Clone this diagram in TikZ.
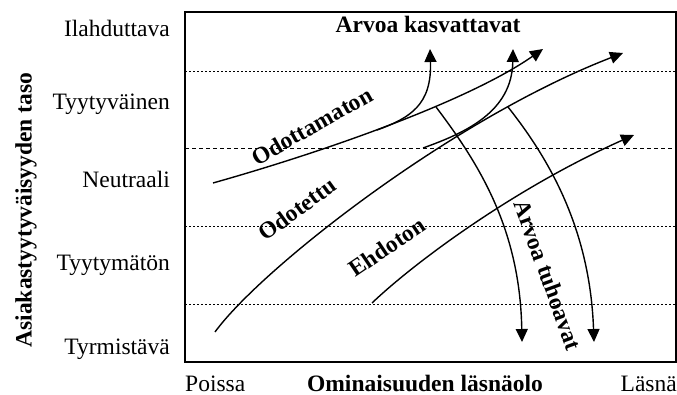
\documentclass[tikz,border=0pt]{standalone}
\usepackage{fontspec}
\setmainfont{Liberation Serif}
\usetikzlibrary{arrows.meta}

\begin{document}
\begin{tikzpicture}[x=1pt, y=-1pt,
    every node/.style={font=\fontsize{23.5}{28}\selectfont, inner sep=0pt},
    levellbl/.style={anchor=base east},
    curvelbl/.style={font=\fontsize{23.5}{28}\selectfont\bfseries},
    curve/.style={line width=1.4pt, -{Triangle[length=13pt,width=12pt]}},
    gridline/.style={line width=0.8pt, dash pattern=on 2pt off 2pt}]
  \useasboundingbox (0,0) rectangle (677,395);
  \draw[line width=1.5pt] (185,12) rectangle (676,362);
  \draw[gridline] (185,71) -- (676,71);
  \draw[gridline, dash pattern=on 4pt off 3pt] (185,148) -- (676,148);
  \draw[gridline] (185,226) -- (676,226);
  \draw[gridline] (185,304) -- (676,304);
  \node[levellbl] (ilah) at (170,37) {Ilahduttava};
  \node[levellbl] (tyyt) at (170,110) {Tyytyväinen};
  \node[levellbl] (neut) at (170,188) {Neutraali};
  \node[levellbl] (tymat) at (170,270) {Tyytymätön};
  \node[levellbl] (tyrm) at (170,354) {Tyrmistävä};
  \node[rotate=90, font=\fontsize{23.5}{28}\selectfont\bfseries] (ylbl) at (26,210) {Asiakastyytyväisyyden taso};
  \node[anchor=base west] (poissa) at (185,391) {Poissa};
  \node[anchor=base, font=\fontsize{23.5}{28}\selectfont\bfseries] (xlbl) at (425,391) {Ominaisuuden läsnäolo};
  \node[anchor=base east] (lasna) at (677,391) {Läsnä};
  \node[anchor=base, font=\fontsize{23.5}{28}\selectfont\bfseries] (kasv) at (428,33) {Arvoa kasvattavat};
  \coordinate (odo0) at (213,183);
  \coordinate (odo1) at (543,49);
  \coordinate (odob0) at (377,130);
  \coordinate (odob1) at (430,49);
  \coordinate (ode0) at (215,332);
  \coordinate (ode1) at (623,53);
  \coordinate (odeb0) at (423,148);
  \coordinate (odeb1) at (513,49);
  \coordinate (ehd0) at (372,303);
  \coordinate (ehd1) at (634,135);
  \coordinate (tuh0) at (436,107);
  \coordinate (tuh1) at (522,342);
  \coordinate (tuhb0) at (508,107);
  \coordinate (tuhb1) at (594,342);
  \draw[curve] (odo0) .. controls (330,150) and (470,100) .. (odo1);
  \draw[curve] (odob0) .. controls (410,118) and (432,105) .. (odob1);
  \draw[curve] (ode0) .. controls (260,270) and (450,120) .. (ode1);
  \draw[curve] (odeb0) .. controls (465,133) and (512,112) .. (odeb1);
  \draw[curve] (ehd0) .. controls (415,262) and (515,188) .. (ehd1);
  \draw[curve] (tuh0) .. controls (480,165) and (520,230) .. (tuh1);
  \draw[curve] (tuhb0) .. controls (550,160) and (590,230) .. (tuhb1);
  \node[curvelbl, rotate=29.5] (lblodo) at (312,126) {Odottamaton};
  \node[curvelbl, rotate=36] (lblode) at (297,209) {Odotettu};
  \node[curvelbl, rotate=34] (lblehd) at (387,247) {Ehdoton};
  \node[curvelbl, rotate=-70] (lbltuh) at (548,275) {Arvoa tuhoavat};
\end{tikzpicture}
\end{document}
